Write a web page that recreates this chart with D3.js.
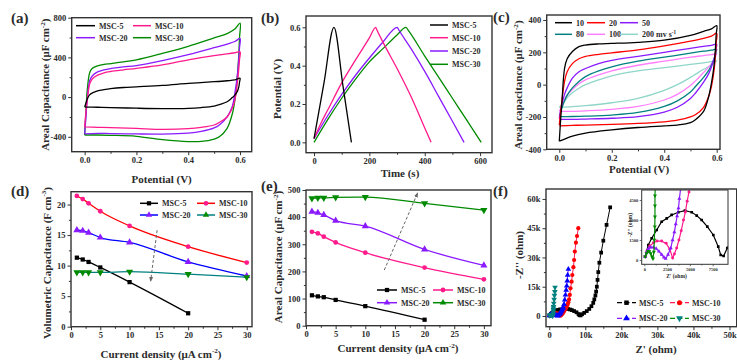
<!DOCTYPE html>
<html><head><meta charset="utf-8">
<script src="https://cdn.jsdelivr.net/npm/d3@7"></script>
<style>
body{margin:0;background:#fff}
svg{display:block}
text{font-family:"Liberation Serif","Times New Roman",serif;font-weight:bold;fill:#2b2b2b}
</style>
</head><body>
<svg id="c" width="737" height="362"></svg>
<script>
// ================= DATA =================
// shared potential grids for CV sweeps (V)
const potUp   = [0,0.005,0.01,0.02,0.03,0.05,0.075,0.1,0.15,0.2,0.3,0.4,0.5,0.55,0.58,0.6];
const potDown = [0.6,0.598,0.595,0.59,0.58,0.57,0.55,0.52,0.5,0.45,0.4,0.3,0.2,0.1,0.05,0];

// (a) CV of the four devices (µF cm-2)
const aNames = ["MSC-5","MSC-10","MSC-20","MSC-30"];
const aUpMSC5    = [-100,-60,-20,25,42,62,75,85,97,104,118,138,155,165,173,190];
const aDownMSC5  = [190,150,100,60,20,-5,-47,-75,-90,-105,-113,-116,-112,-105,-102,-100];
const aUpMSC10   = [-300,-150,-30,137,185,221,245,258,275,290,325,376,418,435,447,457];
const aDownMSC10 = [457,380,280,150,-30,-110,-200,-255,-281,-305,-318,-325,-316,-308,-304,-300];
const aUpMSC20   = [-370,-200,-20,170,215,254,275,288,305,318,368,428,498,535,560,590];
const aDownMSC20 = [590,500,380,230,40,-95,-198,-280,-310,-345,-362,-372,-371,-367,-365,-370];
const aUpMSC30   = [-382,-150,70,250,290,315,330,338,355,375,440,512,597,640,685,745];
const aDownMSC30 = [745,600,420,220,-30,-170,-315,-400,-423,-447,-448,-428,-395,-385,-382,-382];

// (b) galvanostatic charge/discharge: time (s) and potential (V)
const bT5  = [0,36,72,104,135];
const bV5  = [0.02,0.31,0.6,0.3,0];
const bT10 = [0,25,50,100,150,200,223,226,250,300,350,400,423];
const bV10 = [0.02,0.1,0.17,0.31,0.43,0.545,0.6,0.59,0.52,0.385,0.24,0.075,0];
const bT20 = [0,50,100,150,200,250,301,305,350,400,450,500,542];
const bV20 = [0.02,0.14,0.25,0.35,0.44,0.525,0.6,0.59,0.49,0.37,0.24,0.11,0];
const bT30 = [0,50,100,150,200,250,300,332,340,400,450,500,550,604];
const bV30 = [0,0.12,0.23,0.33,0.42,0.49,0.56,0.6,0.585,0.45,0.34,0.23,0.12,0];

// (c) CV at different scan rates (µF cm-2)
const cRates = ["10","20","50","80","100","200"];
const cUp10    = [-350,-220,-110,100,160,205,235,245,252,255,262,275,305,330,345,365];
const cDown10  = [365,310,220,120,10,-70,-165,-215,-235,-250,-255,-265,-280,-300,-318,-350];
const cUp20    = [-250,-170,-100,20,80,130,160,175,188,197,215,240,270,287,300,318];
const cDown20  = [318,260,180,90,-10,-70,-140,-185,-200,-220,-230,-240,-246,-250,-252,-255];
const cUp50    = [-210,-160,-120,-60,-20,40,80,100,130,150,175,200,225,237,243,250];
const cDown50  = [250,225,195,160,110,70,15,-50,-85,-140,-170,-198,-208,-213,-215,-215];
const cUp80    = [-195,-170,-145,-100,-65,-20,20,50,85,110,145,170,195,207,213,220];
const cDown80  = [220,205,185,160,120,90,45,-10,-45,-100,-135,-172,-188,-195,-197,-198];
const cUp100   = [-165,-148,-130,-90,-65,-30,5,30,60,85,120,145,170,180,186,192];
const cDown100 = [192,183,170,155,130,110,75,25,-5,-60,-95,-135,-153,-162,-165,-165];
const cUp200   = [-140,-132,-125,-105,-80,-50,-22,0,30,55,85,105,125,135,142,148];
const cDown200 = [148,145,140,133,122,112,95,65,45,0,-35,-85,-112,-130,-136,-140];

// (d) volumetric capacitance (F cm-3) vs current density (µA cm-2)
const current = [1,2,3,5,10,20,30];
const dMSC5  = [11.3,11.0,10.6,9.7,7.3,2.2];
const dMSC10 = [21.4,20.9,20.2,18.9,16.5,13.1,10.5];
const dMSC20 = [15.8,15.7,15.4,14.6,13.8,10.6,8.3];
const dMSC30 = [8.9,8.9,8.9,8.9,9.0,8.6,8.1];

// (e) areal capacitance (µF cm-2) vs current density
const eMSC5  = [112,108,105,95,72,22];
const eMSC10 = [346,340,328,307,269,214,171];
const eMSC20 = [420,416,408,387,367,281,222];
const eMSC30 = [469,471,471,473,474,451,426];

// (f) Nyquist: Z' and -Z'' (ohm)
const fRe5  = [80,440,810,1360,1900,2460,3000,3730,4460,5200,5750,6290,6910,7570,8110,8380,8700,9100,9700,10400,11100,11700,12200,12500,12800,13000,13200,13400,13600,13900,14400,15000,15900,16900];
const fIm5  = [250,1120,1630,2250,2870,3120,3380,3580,3700,3580,3330,3000,2500,1880,1000,380,300,900,1600,2500,3600,5000,6700,8500,10500,12500,15000,18500,22500,27300,32500,38600,46700,55700];
const fRe10 = [100,300,600,1000,1400,1900,2400,2800,3110,3300,3550,3800,4050,4300,4500,4700,4900,5100,5300,5500,5700,5900,6200,6400,6700,6900,7100,7400,7700,8060];
const fIm10 = [250,700,1050,1300,1420,1420,1250,800,150,450,900,1500,2200,3000,3600,4400,5100,5900,7000,8500,10800,14200,17600,21000,25000,28700,33000,37600,41000,45000];
const fRe20 = [100,250,450,700,1000,1300,1600,1900,2150,2340,2600,2900,3100,3300,3450,3600,3750,3850,4100,4300,4500,4700,4850,5000,5100,5300];
const fIm20 = [250,600,850,950,950,850,650,400,200,100,400,900,1500,2100,2700,3300,3900,4600,6000,8200,10800,13300,15400,18000,21000,24000];
const fRe30 = [100,250,400,550,700,850,950,1050,1100,1150,1170,1170,1170,1250,1350,1450,1550,1600];
const fIm30 = [250,500,650,650,500,250,100,600,1500,2500,3250,4070,4820,6500,8500,10500,12500,14700];

// tick values
const aXTicks = [0,0.2,0.4,0.6], aYTicks = [-400,0,400,800];
const bXTicks = [0,200,400,600], bYTicks = [0,0.2,0.4,0.6];
const cXTicks = [0,0.2,0.4,0.6], cYTicks = [-400,-200,0,200,400];
const dXTicks = [0,5,10,15,20,25,30], dYTicks = [0,5,10,15,20];
const eXTicks = [0,5,10,15,20,25,30], eYTicks = [0,100,200,300,400,500];
const fXTicks = [0,10000,20000,30000,40000,50000], fYTicks = [0,15000,30000,45000,60000];
const iXTicks = [0,2500,5000,7500], iYTicks = [0,1500,3000,4500];

// ================= DRAW =================
const svg = d3.select("#c");
const AX = "#333";
const defs = svg.append("defs");
defs.append("marker").attr("id","arr").attr("viewBox","0 0 10 10")
  .attr("refX",8).attr("refY",5).attr("markerWidth",5).attr("markerHeight",5)
  .attr("orient","auto").append("path").attr("d","M0,1L10,5L0,9z").attr("fill","#666");

function mids(t){const m=[];for(let i=0;i<t.length-1;i++)m.push((t[i]+t[i+1])/2);return m;}

function axes(g, x, y, o){
  const [x0,x1]=x.range(), [y0,y1]=y.range();
  const fs=o.fs||8.5, tl=o.tl||3.5;
  const style=s=>{s.select(".domain").remove();s.selectAll("line").attr("stroke",AX).attr("stroke-width",o.tw||1);
    s.selectAll("text").style("font-size",fs+"px").attr("fill","#2b2b2b");};
  g.append("g").attr("transform",`translate(0,${y0})`).call(d3.axisBottom(x).tickValues(mids(o.xTicks)).tickSize(tl*0.6).tickFormat("")).call(style);
  g.append("g").attr("transform",`translate(0,${y0})`).call(d3.axisBottom(x).tickValues(o.xTicks).tickSize(tl).tickPadding(o.pad||2).tickFormat(o.xFmt)).call(style);
  g.append("g").attr("transform",`translate(${x0},0)`).call(d3.axisLeft(y).tickValues(mids(o.yTicks)).tickSize(tl*0.6).tickFormat("")).call(style);
  g.append("g").attr("transform",`translate(${x0},0)`).call(d3.axisLeft(y).tickValues(o.yTicks).tickSize(tl).tickPadding(o.pad||2).tickFormat(o.yFmt)).call(style);
  g.append("rect").attr("x",x0).attr("y",y1).attr("width",x1-x0).attr("height",y0-y1)
    .attr("fill","none").attr("stroke",AX).attr("stroke-width",o.fw||1.4);
}

function label(x,y,parts,fs,rot){
  const t=svg.append("text").attr("text-anchor","middle").style("font-size",fs+"px")
    .attr("transform",rot?`translate(${x},${y}) rotate(-90)`:`translate(${x},${y})`);
  let prevSup=false;
  parts.forEach(p=>{
    const sup=p.startsWith("^");
    const s=t.append("tspan").text(sup?p.slice(1):p);
    if(sup) s.attr("dy",-fs*0.4).style("font-size",(fs*0.65)+"px");
    else if(prevSup) s.attr("dy",fs*0.4);
    prevSup=sup;
  });
  return t;
}
function panelTag(x,y,s){svg.append("text").attr("x",x).attr("y",y).style("font-size","15px").attr("fill","#4a4a4a").text(s);}

const smooth=(x,y)=>d3.line().x(d=>x(d[0])).y(d=>y(d[1])).curve(d3.curveCatmullRom.alpha(0.5));
const mono=(x,y)=>d3.line().x(d=>x(d[0])).y(d=>y(d[1])).curve(d3.curveMonotoneX);
const lin=(x,y)=>d3.line().x(d=>x(d[0])).y(d=>y(d[1]));
const zip=(a,b)=>b.map((v,i)=>[a[i],v]);
const loop=(up,dn)=>zip(potUp,up).concat(zip(potDown,dn).slice(1));

function legLine(x1,x2,y,color,text,fs,sym,mcolor,dash,msize){
  svg.append("line").attr("x1",x1).attr("x2",x2).attr("y1",y).attr("y2",y)
    .attr("stroke",color).attr("stroke-width",1.5).attr("stroke-dasharray",dash||null);
  if(sym) svg.append("path").attr("d",d3.symbol(sym,msize||18)()).attr("transform",`translate(${(x1+x2)/2},${y})`).attr("fill",mcolor||color);
  const t=svg.append("text").attr("x",x2+4).attr("y",y).attr("dy","0.35em").style("font-size",fs+"px");
  if(Array.isArray(text)){ text.forEach(p=>{const sup=p.startsWith("^");const s=t.append("tspan").text(sup?p.slice(1):p);
      if(sup)s.attr("dy",-fs*0.4).style("font-size",fs*0.65+"px");});}
  else t.text(text);
}

// ---------- (a) ----------
{
  const x=d3.scaleLinear([-0.05,0.645],[71.7,251.7]);
  const y=d3.scaleLinear([-550,800],[151.7,17.7]);
  const g=svg.append("g");
  const cols=["#000000","#ff1a8c","#8a1aff","#008a00"];
  const ups=[aUpMSC5,aUpMSC10,aUpMSC20,aUpMSC30], dns=[aDownMSC5,aDownMSC10,aDownMSC20,aDownMSC30];
  [3,2,1,0].forEach(i=>g.append("path").attr("d",smooth(x,y)(loop(ups[i],dns[i]))).attr("fill","none").attr("stroke",cols[i]).attr("stroke-width",1.3));
  axes(g,x,y,{xTicks:aXTicks,yTicks:aYTicks,xFmt:d3.format(".1f"),yFmt:d=>d});
  legLine(76,95,25.7,cols[0],aNames[0],8); legLine(133,151,25.7,cols[1],aNames[1],8);
  legLine(76,95,37.7,cols[2],aNames[2],8); legLine(133,151,37.7,cols[3],aNames[3],8);
  label(49,84.7,["Areal Capacitance (μF cm","^-2",")"],11,true);
  label(161.7,183,["Potential (V)"],11,false);
  panelTag(11,22.5,"(a)");
}
// ---------- (b) ----------
{
  const x=d3.scaleLinear([-29,643],[306,492]);
  const y=d3.scaleLinear([-0.054,0.659],[152.7,16]);
  const g=svg.append("g");
  const cols=["#000000","#ff1a8c","#8a1aff","#008a00"];
  const ser=[[bT5,bV5],[bT10,bV10],[bT20,bV20],[bT30,bV30]];
  [3,2,1,0].forEach(i=>g.append("path").attr("d",mono(x,y)(zip(ser[i][0],ser[i][1]))).attr("fill","none").attr("stroke",cols[i]).attr("stroke-width",1.3));
  axes(g,x,y,{xTicks:bXTicks,yTicks:bYTicks,xFmt:d=>d,yFmt:d3.format(".1f")});
  [25,37.7,51,64.3].forEach((yy,i)=>legLine(430,448,yy,cols[i],aNames[i],8));
  label(281,89,["Potential (V)"],11,true);
  label(400,177,["Time (s)"],11,false);
  panelTag(261,23,"(b)");
}
// ---------- (c) ----------
{
  const x=d3.scaleLinear([-0.048,0.6126],[546.7,720]);
  const y=d3.scaleLinear([-400,431],[149.3,15]);
  const g=svg.append("g");
  const cols=["#000000","#ff0000","#8a1aff","#008080","#ff80ff","#8fd6c8"];
  const ups=[cUp10,cUp20,cUp50,cUp80,cUp100,cUp200], dns=[cDown10,cDown20,cDown50,cDown80,cDown100,cDown200];
  [5,4,3,2,1,0].forEach(i=>g.append("path").attr("d",smooth(x,y)(loop(ups[i],dns[i]))).attr("fill","none").attr("stroke",cols[i]).attr("stroke-width",1.3));
  axes(g,x,y,{xTicks:cXTicks,yTicks:cYTicks,xFmt:d3.format(".1f"),yFmt:d=>d});
  legLine(555,572,22.7,cols[0],cRates[0],8); legLine(587,605,22.7,cols[1],cRates[1],8); legLine(620,638,22.7,cols[2],cRates[2],8);
  legLine(555,572,34.3,cols[3],cRates[3],8); legLine(587,605,34.3,cols[4],cRates[4],8); legLine(620,638,34.3,cols[5],[cRates[5]+" mv s","^-1"],8);
  label(522,85,["Areal capacitance (μF cm","^-2",")"],11,true);
  label(639,172.5,["Potential (V)"],11,false);
  panelTag(493,22,"(c)");
}
// ---------- (d) ----------
{
  const x=d3.scaleLinear([0,30.9],[71,252]);
  const y=d3.scaleLinear([0,22.1],[326.7,191.7]);
  const g=svg.append("g");
  const lc=["#000000","#ff0000","#0000ff","#008080"], mc=["#000000","#ff1a8c","#8a1aff","#008a00"];
  const syms=[d3.symbolSquare,d3.symbolCircle,d3.symbolTriangle,d3.symbolTriangle];
  const ser=[dMSC5,dMSC10,dMSC20,dMSC30];
  ser.forEach((v,i)=>{
    const pts=zip(current,v);
    g.append("path").attr("d",mono(x,y)(pts)).attr("fill","none").attr("stroke",lc[i]).attr("stroke-width",1.3);
    g.selectAll(null).data(pts).join("path").attr("d",d3.symbol(syms[i],i>=2?22:18)())
      .attr("transform",d=>`translate(${x(d[0])},${y(d[1])})${i===3?" rotate(180)":""}`).attr("fill",mc[i]);
  });
  g.append("line").attr("x1",x(14.7)).attr("y1",y(15.8)).attr("x2",x(13.6)).attr("y2",y(7.5))
    .attr("stroke","#666").attr("stroke-width",1).attr("stroke-dasharray","3,2").attr("marker-end","url(#arr)");
  axes(g,x,y,{xTicks:dXTicks,yTicks:dYTicks,xFmt:d=>d,yFmt:d=>d});
  const lg=(x1,x2,yy,i)=>{legLine(x1,x2,yy,lc[i],aNames[i],8,syms[i],mc[i]);};
  lg(140,158,203.3,0); lg(197,215,203.3,1); lg(140,158,215,2); lg(197,215,215,3);
  svg.selectAll("path").filter(function(){return false;});
  label(50.5,263,["Volumetric Capacitance (F cm","^-3",")"],11,true);
  label(161,357.5,["Current density (μA cm","^-2",")"],11,false);
  panelTag(11,196,"(d)");
}
// ---------- (e) ----------
{
  const x=d3.scaleLinear([0,31.2],[306,491]);
  const y=d3.scaleLinear([0,500],[325.7,190]);
  const g=svg.append("g");
  const cols=["#000000","#ff1a8c","#8a1aff","#008a00"];
  const syms=[d3.symbolSquare,d3.symbolCircle,d3.symbolTriangle,d3.symbolTriangle];
  const ser=[eMSC5,eMSC10,eMSC20,eMSC30];
  ser.forEach((v,i)=>{
    const pts=zip(current,v);
    g.append("path").attr("d",mono(x,y)(pts)).attr("fill","none").attr("stroke",cols[i]).attr("stroke-width",1.3);
    g.selectAll(null).data(pts).join("path").attr("d",d3.symbol(syms[i],i>=2?22:18)())
      .attr("transform",d=>`translate(${x(d[0])},${y(d[1])})${i===3?" rotate(180)":""}`).attr("fill",cols[i]);
  });
  g.append("line").attr("x1",x(13.2)).attr("y1",y(205)).attr("x2",x(18.8)).attr("y2",y(488))
    .attr("stroke","#666").attr("stroke-width",1).attr("stroke-dasharray","3,2").attr("marker-end","url(#arr)");
  axes(g,x,y,{xTicks:eXTicks,yTicks:eYTicks,xFmt:d=>d,yFmt:d=>d});
  legLine(377,397,290,cols[0],aNames[0],8,syms[0]); legLine(433,453,290,cols[1],aNames[1],8,syms[1]);
  legLine(377,397,302.7,cols[2],aNames[2],8,syms[2]);
  legLine(433,453,302.7,cols[3],aNames[3],8,d3.symbolTriangle);
  label(282,257,["Areal Capacitance (μF cm","^-2",")"],11,true);
  label(398,352,["Current density (μA cm","^-2",")"],11,false);
  panelTag(261,191,"(e)");
}
// ---------- (f) ----------
{
  const x=d3.scaleLinear([-900,52000],[546,736.7]);
  const y=d3.scaleLinear([-5500,65100],[326.7,189]);
  const g=svg.append("g");
  const lc=["#000000","#ff1a5a","#8a1aff","#008a00"], mc=["#000000","#ff0000","#0000ff","#008080"];
  const syms=[d3.symbolSquare,d3.symbolCircle,d3.symbolTriangle,d3.symbolTriangle];
  const ser=[[fRe5,fIm5],[fRe10,fIm10],[fRe20,fIm20],[fRe30,fIm30]];
  ser.forEach((s,i)=>{
    const pts=zip(s[0],s[1]);
    g.append("path").attr("d",lin(x,y)(pts)).attr("fill","none").attr("stroke",lc[i]).attr("stroke-width",1);
    g.selectAll(null).data(pts).join("path").attr("d",d3.symbol(syms[i],14)())
      .attr("transform",d=>`translate(${x(d[0])},${y(d[1])})${i===3?" rotate(180)":""}`).attr("fill",mc[i]);
  });
  axes(g,x,y,{xTicks:fXTicks,yTicks:fYTicks,xFmt:d=>d===0?"0":d/1000+"k",yFmt:d=>d===0?"0":d/1000+"k"});
  const lg=(x1,x2,yy,i)=>{
    svg.append("line").attr("x1",x1).attr("x2",x2).attr("y1",yy).attr("y2",yy).attr("stroke",lc[i]).attr("stroke-width",1.3).attr("stroke-dasharray","5,2.5");
    svg.append("path").attr("d",d3.symbol(syms[i],20)()).attr("transform",`translate(${(x1+x2)/2},${yy})${i===3?" rotate(180)":""}`).attr("fill",mc[i]);
    svg.append("text").attr("x",x2+3).attr("y",yy).attr("dy","0.35em").style("font-size","8px").text(aNames[i]);
  };
  lg(617,636,302.7,0); lg(670,689,302.7,1); lg(617,636,318.3,2); lg(670,689,318.3,3);
  label(523,255,["-Z'' (ohm)"],11,true);
  label(656,353,["Z' (ohm)"],11,false);
  panelTag(493,196,"(f)");

  // inset
  const xi=d3.scaleLinear([-285,9180],[641.7,728]);
  const yi=d3.scaleLinear([-320,5250],[264.3,190]);
  const gi=svg.append("g");
  gi.append("rect").attr("x",641.7).attr("y",190).attr("width",728-641.7).attr("height",264.3-190).attr("fill","#fff");
  defs.append("clipPath").attr("id","ci").append("rect").attr("x",641.7).attr("y",190).attr("width",728-641.7).attr("height",264.3-190);
  const gc=gi.append("g").attr("clip-path","url(#ci)");
  const ic=["#000000","#ff1a8c","#8a1aff","#008a00"];
  ser.forEach((s,i)=>{
    const pts=zip(s[0],s[1]);
    gc.append("path").attr("d",lin(xi,yi)(pts)).attr("fill","none").attr("stroke",ic[i]).attr("stroke-width",1.2);
    gc.selectAll(null).data(pts).join("path").attr("d",d3.symbol(syms[i],7)())
      .attr("transform",d=>`translate(${xi(d[0])},${yi(d[1])})${i===3?" rotate(180)":""}`).attr("fill",ic[i]);
  });
  axes(gi,xi,yi,{xTicks:iXTicks,yTicks:iYTicks,xFmt:d=>d,yFmt:d=>d,fs:4.5,tl:2,fw:1,tw:0.7,pad:1.5});
  label(676.5,278,["Z' (ohm)"],5.5,false);
  label(631.5,225,["-Z'' (ohm)"],5.5,true);
}
</script>
</body></html>
